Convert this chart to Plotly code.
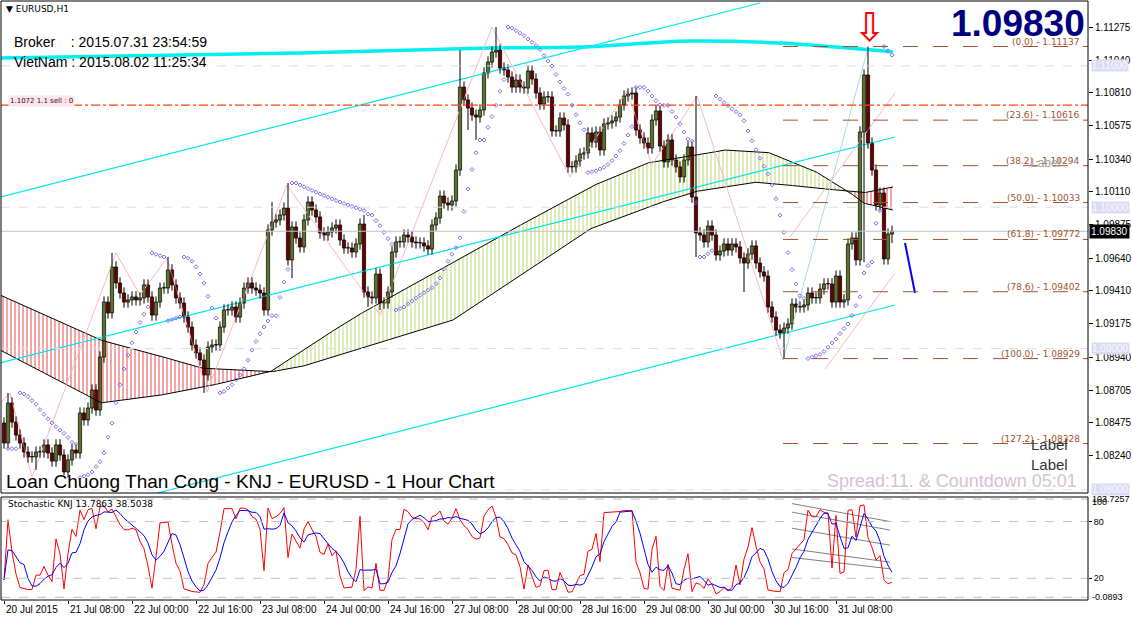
import numpy as np
import pandas as pd
import plotly.graph_objects as go

# ---------------- data ----------------
closes = [
1.08332,1.08615,1.08480,1.08388,1.08332,1.08268,1.08233,1.08233,1.08268,1.08268,
1.08318,1.08261,1.08204,1.08318,1.08247,1.08127,1.08212,1.08282,1.08261,1.08544,
1.08495,1.08579,1.08707,1.08565,1.08940,1.09329,1.09252,1.09577,1.09464,1.09393,
1.09329,1.09344,1.09365,1.09344,1.09358,1.09450,1.09365,1.09237,1.09329,1.09428,
1.09428,1.09556,1.09450,1.09358,1.09322,1.09223,1.09152,1.09025,1.08969,1.08919,
1.08813,1.09011,1.09025,1.09025,1.09152,1.09273,1.09273,1.09294,1.09223,1.09322,
1.09428,1.09464,1.09428,1.09414,1.09393,1.09273,1.09839,1.09895,1.09910,1.09945,
1.09994,1.09627,1.09860,1.09782,1.09719,
1.09910,1.10037,1.09980,1.09931,1.09818,1.09803,1.09825,1.09853,1.09874,1.09768,
1.09711,1.09711,1.09683,1.09740,1.09881,1.09400,1.09365,1.09358,1.09527,1.09322,
1.09322,1.09400,1.09683,1.09754,1.09754,1.09803,1.09789,1.09754,1.09747,1.09747,
1.09726,1.09704,1.09874,1.09924,1.10079,1.10030,1.10016,1.10044,1.10263,1.10850,
1.10759,1.10702,1.10652,1.10638,1.10688,1.10950,1.11027,1.11098,1.11112,1.10985,
1.10971,1.10921,1.10850,1.10900,1.10850,1.10843,1.10964,1.10907,1.10808,1.10730,
1.10780,1.10780,1.10539,1.10539,1.10631,1.10582,1.10285,1.10285,1.10327,1.10376,
1.10384,1.10525,
1.10461,1.10532,1.10405,1.10589,1.10596,1.10610,1.10638,1.10723,1.10787,1.10801,
1.10808,1.10546,1.10490,1.10454,1.10419,1.10617,1.10681,1.10433,1.10320,1.10476,
1.10334,1.10285,1.10214,1.10334,1.10426,1.10072,1.09818,1.09803,1.09754,1.09867,
1.09803,1.09662,1.09690,1.09740,1.09697,1.09740,1.09719,1.09641,1.09605,1.09669,
1.09726,1.09605,1.09542,1.09513,1.09294,1.09223,1.09131,1.09110,1.09145,1.09174,
1.09315,1.09294,1.09294,1.09308,1.09393,1.09358,1.09358,1.09421,1.09457,1.09457,
1.09329,1.09513,1.09329,1.09344,1.09740,1.09782,1.09627,1.10532,1.10935,1.10454,
1.10263,1.10016,1.10100,1.09634,1.09810,1.09830]
first_open = 1.08473
wick = 0.0004
extreme_highs = {1:1.08686, 27:1.09676, 41:1.09648, 67:1.10037, 71:1.10171, 90:1.09945,
                 114:1.11112, 123:1.11275, 173:1.10787, 216:1.11137, 223:1.09888}
extreme_lows = {8:1.08141, 15:1.08105, 50:1.08686, 72:1.09499, 91:1.09294, 94:1.09273,
                116:1.10546, 118:1.10476, 173:1.09648, 185:1.09400, 195:1.08929,
                215:1.09612, 222:1.09747}

x_tick_bars = [0,16,32,48,64,80,96,112,128,144,160,176,192,208]
x_tick_labels = ["20 Jul 2015","21 Jul 08:00","22 Jul 00:00","22 Jul 16:00","23 Jul 08:00",
                 "24 Jul 00:00","24 Jul 16:00","27 Jul 08:00","28 Jul 00:00","28 Jul 16:00",
                 "29 Jul 08:00","30 Jul 00:00","30 Jul 16:00","31 Jul 08:00"]
price_ticks = [1.11275,1.11040,1.10810,1.10575,1.10340,1.10110,1.09875,1.09640,
               1.09410,1.09175,1.08940,1.08705,1.08475,1.08240]
round_levels = [1.11000,1.10000,1.09000,1.08000]
current_price = 1.09830
sell_level = 1.10723

fib_names = ["0.0","23.6","38.2","50.0","61.8","78.6","100.0","127.2"]
fib_prices = [1.11137,1.10616,1.10294,1.10033,1.09772,1.09402,1.08929,1.08328]

slow_bars = [-1,24,36.5,49,66.5,74,112.25,129,146.5,160.75,172.25,187.25,194,202.25,211,214.75,222.25]
slow_vals = [1.09379,1.09061,1.08969,1.08862,1.08834,1.08869,1.09202,1.09520,1.09846,1.10001,
             1.10108,1.10178,1.10164,1.10136,1.10115,1.10101,1.10143]
fast_bars = [-1,24,36.5,49,66.5,74,87.25,112.25,146.5,160.75,172.25,179.75,190.75,202.25,211,214.75,222.25]
fast_vals = [1.08990,1.08615,1.08657,1.08721,1.08834,1.08976,1.09216,1.09612,1.10143,1.10313,
             1.10362,1.10405,1.10391,1.10263,1.10115,1.10030,1.09980]

thick_bars = [-1,74,121.5,144,171.5,194,214,222.25]
thick_vals = [1.11056,1.11091,1.11126,1.11133,1.11176,1.11162,1.11119,1.11098]
chan_upper = ([-1,189],[1.10072,1.11445])
chan_mid = ([-1,222.75],[1.08898,1.10497])
chan_low = ([36.5,222.75],[1.07964,1.09308])

zz_bars = [-1,1.5,7,28,34,40.75,50.75,70.75,94,122,141.5,155.75,162,173.25,194.75]
zz_vals = [1.08615,1.08686,1.08091,1.09676,1.09379,1.09641,1.08693,1.10157,1.09237,1.11275,
           1.10214,1.10822,1.10299,1.10787,1.08919]
fibline = ([194.75,216],[1.08919,1.11126])
pink_diag1 = ([196.5,222.75],[1.09789,1.10808])
pink_diag2 = ([205.25,222.75],[1.08855,1.09535])
blue_proj = ([225.25,227.75],[1.09747,1.09393])

stoch_grey_start = [99,90,73,51,42]
stoch_grey_end = [80,71,55,37,30]
stoch_grey_bars = [197,221.5]

# ---------------- build OHLC ----------------
n = len(closes)
bars = np.arange(n)
opens = [first_open] + closes[:-1]
highs = [extreme_highs.get(i, max(opens[i], closes[i]) + wick) for i in range(n)]
lows = [extreme_lows.get(i, min(opens[i], closes[i]) - wick) for i in range(n)]

def psar(h, l, step=0.02, mx=0.2):
    out = [np.nan]*len(h)
    up = True; af = step; ep = h[0]; sar = l[0]
    for i in range(1, len(h)):
        sar = sar + af*(ep - sar)
        if up:
            sar = min(sar, l[i-1], l[i-2] if i > 1 else l[i-1])
            if l[i] < sar:
                up = False; sar = ep; ep = l[i]; af = step
            elif h[i] > ep:
                ep = h[i]; af = min(af+step, mx)
        else:
            sar = max(sar, h[i-1], h[i-2] if i > 1 else h[i-1])
            if h[i] > sar:
                up = True; sar = ep; ep = h[i]; af = step
            elif l[i] < ep:
                ep = l[i]; af = min(af+step, mx)
        out[i] = sar
    return out

sar = psar(highs, lows)
hs, ls, cs = pd.Series(highs), pd.Series(lows), pd.Series(closes)
hh = hs.rolling(10, min_periods=1).max(); ll = ls.rolling(10, min_periods=1).min()
K = 100*(cs-ll)/(hh-ll)
D = K.rolling(5, min_periods=1).mean()

# ---------------- figure ----------------
W, H = 1132, 620
ML, MR, MT, MB = 1, 44, 1, 20
PH = H - MT - MB
def py(Y):  # pixel row -> paper y
    return (H - MB - Y) / PH
def px(X):
    return (X - ML) / (W - ML - MR)

fig = go.Figure()
XR = [-0.75, 271]
YR = [1.07978, 1.11459]
main_dom = [py(493), 1]
st_dom = [0, py(497)]
AX = 'Liberation Sans'

def line(xs, ys, color, width=1, dash=None, yaxis='y'):
    fig.add_trace(go.Scatter(x=xs, y=ys, mode='lines', yaxis=yaxis, hoverinfo='skip',
                             line=dict(color=color, width=width, dash=dash), showlegend=False))

# MA band
xs = np.linspace(-1, 222.25, 900)
S = np.interp(xs, slow_bars, slow_vals)
F = np.interp(xs, fast_bars, fast_vals)
red = S > F
start = 0
for i in range(1, len(xs)+1):
    if i == len(xs) or red[i] != red[start]:
        seg = slice(start, min(i+1, len(xs)))
        col = '#E00000' if red[start] else '#9ACD32'
        lo = np.minimum(S[seg], F[seg]); hi = np.maximum(S[seg], F[seg])
        fig.add_trace(go.Scatter(x=xs[seg], y=lo, mode='lines', line=dict(width=0),
                                 showlegend=False, hoverinfo='skip'))
        fig.add_trace(go.Scatter(x=xs[seg], y=hi, mode='lines', line=dict(width=0),
                                 fill='tonexty', fillcolor='rgba(0,0,0,0)',
                                 fillpattern=dict(shape='|', fgcolor=col, bgcolor='rgba(255,255,255,0)',
                                                  size=4, solidity=0.35),
                                 showlegend=False, hoverinfo='skip'))
        start = i
line(xs, S, 'black', 1)
line(xs, F, 'black', 1)

# channels
line(*chan_upper, '#00E5EE', 1.2)
line(*chan_mid, '#00E5EE', 1.2)
line(*chan_low, '#00E5EE', 1.2)
fig.add_trace(go.Scatter(x=thick_bars, y=thick_vals, mode='lines', line=dict(color='#00F0F0', width=3.5, shape='spline'),
                         showlegend=False, hoverinfo='skip'))
# zigzag & diagonals
line(zz_bars, zz_vals, '#FFB6C1', 1)
line(*fibline, '#ADD8E6', 1)
line(*pink_diag1, '#FFB6C1', 1)
line(*pink_diag2, '#FFB6C1', 1)
line(*blue_proj, '#0000FF', 2)

# horizontal levels
for lv in round_levels:
    fig.add_shape(type='line', xref='x', yref='y', x0=XR[0], x1=XR[1], y0=lv, y1=lv,
                  line=dict(color='#DCDCF0', width=1, dash='dash'))
fig.add_shape(type='line', xref='x', yref='y', x0=XR[0], x1=XR[1], y0=current_price, y1=current_price,
              line=dict(color='#C0C0C0', width=1))
fig.add_shape(type='line', xref='x', yref='y', x0=XR[0], x1=XR[1], y0=sell_level, y1=sell_level,
              line=dict(color='#FF4500', width=1.2, dash='dashdot'))
for nm, fp in zip(fib_names, fib_prices):
    fig.add_shape(type='line', xref='x', yref='y', x0=194.75, x1=XR[1], y0=fp, y1=fp,
                  line=dict(color='#A0522D', width=1, dash='longdash'))
    fig.add_annotation(x=px(1082), xref='paper', y=fp, yref='y', text=f"({nm}) - {fp:.5f}",
                       showarrow=False, xanchor='right', yanchor='bottom', yshift=-2,
                       font=dict(family='DejaVu Sans', size=9, color='#A0522D'))

# candles: wicks + bodies
wx, wy = [], []
for i in range(n):
    wx += [i, i, None]; wy += [lows[i], highs[i], None]
fig.add_trace(go.Scatter(x=wx, y=wy, mode='lines', line=dict(color='black', width=1),
                         showlegend=False, hoverinfo='skip'))
body_base = [min(o, c) for o, c in zip(opens, closes)]
body_h = [max(abs(c - o), 0.00003) for o, c in zip(opens, closes)]
body_col = ['#B4E65A' if c >= o else '#D00000' for o, c in zip(opens, closes)]
fig.add_trace(go.Bar(x=bars, y=body_h, base=body_base, width=0.8,
                     marker=dict(color=body_col, line=dict(color='black', width=0.8)),
                     showlegend=False, hoverinfo='skip'))
# SAR
fig.add_trace(go.Scatter(x=bars, y=sar, mode='markers', showlegend=False, hoverinfo='skip',
                         marker=dict(symbol='diamond-open', size=3, color='#7B68EE', line=dict(width=1))))

# stochastic
for lv in [80, 20, 103.7257, -0.0893]:
    fig.add_shape(type='line', xref='x', yref='y2', x0=XR[0], x1=XR[1], y0=lv, y1=lv,
                  line=dict(color='#C0C0C0', width=1, dash='dash'))
for a, b in zip(stoch_grey_start, stoch_grey_end):
    line(stoch_grey_bars, [a, b], '#808080', 1, yaxis='y2')
line(bars, K, '#FF0000', 1, yaxis='y2')
line(bars, D, '#0000FF', 1, yaxis='y2')

# borders
for yref in ['y domain', 'y2 domain']:
    fig.add_shape(type='rect', xref='x domain', yref=yref, x0=0, x1=1, y0=0, y1=1,
                  line=dict(color='black', width=1))

# texts
def txt(X, Y, s, size, color='black', anchor='left', family='Liberation Sans', bold=False, bg=None):
    fig.add_annotation(x=px(X), y=py(Y), xref='paper', yref='paper', text=f"<b>{s}</b>" if bold else s,
                       showarrow=False, xanchor=anchor, yanchor='middle', bgcolor=bg,
                       font=dict(family=family, size=size, color=color))

txt(4, 9, "▼ EURUSD,H1", 9, family='DejaVu Sans')
txt(12, 42, "Broker&nbsp;&nbsp;&nbsp;&nbsp;: 2015.07.31 23:54:59", 14)
txt(12, 62, "VietNam : 2015.08.02 11:25:34", 14)
txt(1087, 24, "1.09830", 37, color='#000080', anchor='right', bold=True)
txt(4, 481, "Loan Chuong Than Cong - KNJ - EURUSD - 1 Hour Chart", 19)
txt(1079, 481, "Spread:11. &amp; Countdown 05:01", 18, color='#D8BFD8', anchor='right')
txt(1049, 445, "Label", 15, color='#333333', anchor='center')
txt(1049, 464, "Label", 15, color='#333333', anchor='center')
txt(1045, 163, "Label", 12, color='#A0A0A0', anchor='center')
txt(8, 101, "1.1072 1.1 sell : 0", 7, color='#202020', family='DejaVu Sans', bg='#FFE4EC')
txt(6, 504, "Stochastic KNJ 13.7863 38.5038", 9, family='DejaVu Sans')
fig.add_annotation(x=216.5, y=1.11275, xref='x', yref='y', text="⇩", showarrow=False,
                   font=dict(family='DejaVu Sans', size=40, color='#FF0000'))

# right axis annotations
for lv in round_levels:
    fig.add_annotation(x=1, xref='paper', y=lv, yref='y', text=f"{lv:.5f}", showarrow=False,
                       xanchor='left', xshift=3, font=dict(family=AX, size=10, color='#F8F8FF'),
                       bgcolor='#DCDCF5', borderpad=0)
fig.add_annotation(x=1, xref='paper', y=current_price, yref='y', text=f"{current_price:.5f}", showarrow=False,
                   xanchor='left', xshift=1, font=dict(family=AX, size=10, color='white'),
                   bgcolor='black', borderpad=1)
for val, s in [(103.7257, "103.7257"), (101, "100"), (-0.0893, "-0.0893")]:
    fig.add_annotation(x=1, xref='paper', y=val, yref='y2', text=s, showarrow=False, xanchor='left', xshift=2,
                       font=dict(family=AX, size=9, color='black'))
for b, s in zip(x_tick_bars, x_tick_labels):
    fig.add_annotation(x=b, xref='x', y=0, yref='paper', text=s, showarrow=False, xanchor='left',
                       yanchor='top', yshift=-2, font=dict(family=AX, size=10, color='black'))

fig.update_layout(
    width=W, height=H, margin=dict(l=ML, r=MR, t=MT, b=MB),
    paper_bgcolor='white', plot_bgcolor='white', showlegend=False, barmode='overlay',
    xaxis=dict(range=XR, showgrid=False, zeroline=False, anchor='y2',
               tickvals=x_tick_bars, ticktext=['']*len(x_tick_bars), ticks='outside', ticklen=3,
               tickcolor='black', showline=False),
    yaxis=dict(domain=main_dom, range=YR, side='right', showgrid=False, zeroline=False,
               tickvals=price_ticks, ticktext=[f"{v:.5f}" for v in price_ticks], ticks='outside',
               ticklen=4, tickcolor='black', tickfont=dict(family=AX, size=10, color='black')),
    yaxis2=dict(domain=st_dom, range=[-3, 106], side='right', showgrid=False, zeroline=False,
                tickvals=[80, 20], ticks='outside', ticklen=3, tickcolor='black',
                tickfont=dict(family=AX, size=9, color='black')),
)
fig.write_html("out.html", config={'displayModeBar': False},
               post_script="document.body.style.margin='0';document.body.style.overflow='hidden';")
